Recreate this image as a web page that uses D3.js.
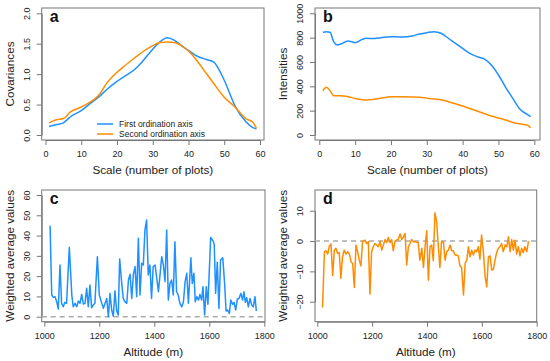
<!DOCTYPE html>
<html>
<head>
<meta charset="utf-8">
<script src="https://cdn.jsdelivr.net/npm/d3@7"></script>
<style>
  body { margin: 0; background: #fff; }
  svg { display: block; font-family: "Liberation Sans", Arial, sans-serif; }
</style>
</head>
<body>
<div id="wrapper"></div>
<script>
// --- panel a: covariances vs scale
const scaleA = [1, 3, 5, 7, 10, 13, 15, 17, 20, 22, 25, 27, 30, 32, 34, 36, 38, 40, 42, 45, 47, 50, 53, 56, 58, 59];
const covFirst = [0.14, 0.17, 0.2, 0.3, 0.4, 0.54, 0.63, 0.74, 0.88, 0.96, 1.08, 1.2, 1.41, 1.53, 1.6, 1.56, 1.47, 1.39, 1.31, 1.24, 1.2, 0.9, 0.48, 0.22, 0.12, 0.1];
const covSecond = [0.2, 0.25, 0.27, 0.38, 0.46, 0.56, 0.66, 0.84, 1.03, 1.13, 1.27, 1.36, 1.47, 1.52, 1.53, 1.52, 1.47, 1.38, 1.25, 1.01, 0.85, 0.62, 0.46, 0.27, 0.21, 0.11];
const legendLabels = ["First ordination axis", "Second ordination axis"];

// --- panel b: intensities vs scale
const scaleB = [1, 2, 3, 4, 5, 6, 8, 10, 12, 13, 15, 17, 20, 23, 26, 28, 30, 32, 34, 36, 38, 40, 42, 44, 46, 48, 50, 52, 54, 56, 58, 59];
const intFirst = [844, 849, 844, 767, 740, 748, 773, 759, 786, 795, 792, 800, 808, 805, 814, 830, 841, 849, 836, 795, 753, 712, 671, 644, 625, 575, 493, 392, 301, 211, 170, 151];
const intSecond = [364, 392, 364, 323, 323, 323, 315, 300, 290, 288, 292, 302, 315, 315, 313, 310, 303, 296, 290, 274, 257, 238, 218, 197, 177, 156, 140, 123, 103, 92, 82, 60];

// --- panel c: weighted average values (first axis) vs altitude
const altC = [1021, 1027, 1033, 1039, 1045, 1051, 1057, 1063, 1069, 1075,
  1081, 1091, 1100, 1105, 1112, 1118, 1124, 1130, 1136, 1142,
  1148, 1154, 1160, 1166, 1172, 1178, 1184, 1193, 1200, 1209,
  1215, 1221, 1227, 1233, 1239, 1245, 1251, 1257, 1263, 1269,
  1274, 1281, 1287, 1293, 1300, 1306, 1312, 1318, 1324, 1330,
  1336, 1342, 1348, 1354, 1360, 1366, 1372, 1378, 1384, 1390,
  1396, 1403, 1409, 1415, 1427, 1433, 1439, 1445, 1451, 1457,
  1463, 1469, 1475, 1481, 1487, 1493, 1500, 1506, 1512, 1518,
  1524, 1533, 1538, 1544, 1549, 1555, 1561, 1566, 1572, 1577,
  1583, 1589, 1595, 1605, 1615, 1618, 1623, 1629, 1635, 1641,
  1649, 1656, 1661, 1667, 1673, 1678, 1685, 1690, 1696, 1702,
  1708, 1715, 1721, 1726, 1731, 1736, 1742, 1748, 1754, 1760,
  1766, 1771];
const wavC = [44.9, 10.7, 9.5, 9.9, 7.4, 3.8, 25.5, 6.6, 4.9, 7.1,
  6.6, 34.2, 10.7, 4.9, 6.6, 4.9, 7.7, 6.6, 11.0, 6.2,
  6.6, 14.0, 4.9, 15.6, 4.4, 5.8, 6.6, 29.6, 10.7, 6.6,
  4.1, 6.6, 9.0, 0.0, 11.5, 3.3, 0.2, 12.8, 3.0, 0.8,
  28.5, 17.3, 9.0, 7.4, 6.6, 18.1, 20.9, 9.0, 20.9, 24.7,
  9.9, 38.7, 10.7, 26.3, 25.5, 42.8, 47.7, 20.6, 25.5, 9.0,
  24.7, 25.5, 18.9, 12.3, 29.6, 25.5, 17.3, 42.8, 8.2, 16.4,
  18.1, 10.7, 37.0, 12.3, 10.7, 6.6, 4.9, 7.4, 17.3, 21.4,
  6.6, 29.1, 16.4, 21.4, 7.4, 9.9, 8.2, 11.0, 8.2, 14.8,
  0.8, 14.8, 6.1, 39.1, 37.0, 35.4, 11.5, 26.8, 4.1, 28.0,
  29.1, 15.6, 2.8, 3.3, 1.6, 8.2, 6.1, 7.1, 3.3, 8.7,
  9.0, 11.5, 8.2, 12.3, 7.1, 9.4, 4.9, 9.0, 5.8, 4.9,
  9.9, 2.8];

// --- panel d: weighted average values (second axis) vs altitude
const altD = [1019, 1026, 1032, 1038, 1044, 1050, 1056, 1062, 1068, 1074,
  1080, 1086, 1092, 1098, 1105, 1111, 1117, 1123, 1129, 1135,
  1141, 1147, 1153, 1159, 1165, 1174, 1180, 1186, 1192, 1198,
  1204, 1210, 1216, 1222, 1229, 1235, 1241, 1247, 1253, 1259,
  1265, 1271, 1277, 1283, 1289, 1295, 1302, 1308, 1314, 1320,
  1326, 1332, 1338, 1344, 1350, 1356, 1362, 1368, 1374, 1381,
  1387, 1393, 1399, 1405, 1411, 1417, 1423, 1429, 1435, 1441,
  1447, 1453, 1460, 1466, 1472, 1478, 1484, 1490, 1496, 1502,
  1508, 1514, 1520, 1526, 1533, 1539, 1545, 1551, 1557, 1563,
  1569, 1575, 1581, 1587, 1593, 1599, 1605, 1612, 1618, 1624,
  1630, 1636, 1642, 1648, 1654, 1660, 1666, 1672, 1678, 1685,
  1691, 1697, 1703, 1709, 1715, 1721, 1727, 1733, 1739, 1745,
  1751, 1757, 1764, 1770];
const wavD = [-21.9, -3.5, -3.2, -4.3, -1.6, -1.0, -11.4, -3.0, -2.4, -4.1,
  -3.8, -12.3, -5.2, -3.0, -4.3, -3.5, -4.3, -6.8, -7.4, -15.3,
  -1.3, -3.5, -6.3, -8.2, -0.2, 0.3, -0.8, -0.2, -17.5, -3.5,
  -1.9, -0.8, -1.3, -1.9, -0.2, -3.0, -1.3, 0.5, -0.5, 1.2,
  -0.5, 0.5, -3.2, -0.2, 0.3, 0.5, 2.3, 0.5, 1.4, 2.5,
  -7.9, -1.9, -0.8, 0.5, -0.2, -0.2, -0.4, -0.5, -6.3, -2.4,
  -8.7, -1.9, 3.4, -12.9, -1.9, -1.3, -6.5, 9.3, 6.4, -1.3,
  -8.7, -0.2, -0.5, -6.3, -3.5, -3.0, -1.3, -3.2, -3.2, -4.6,
  -4.6, -4.9, -8.2, -8.7, -17.8, -7.4, -6.3, -1.9, -5.2, -3.0,
  -4.6, -3.0, -3.5, -1.9, -6.0, 2.0, -3.0, -11.8, -15.1, -5.2,
  -4.9, -9.6, -9.3, -6.3, -3.8, -2.4, -1.9, -0.8, -3.5, -1.3,
  -1.9, 1.4, -3.5, 0.5, -3.0, 0.3, -4.3, -1.9, -4.9, -2.4,
  -3.8, -1.9, -3.5, 0.0];

const ticksScale = [0, 10, 20, 30, 40, 50, 60];
const ticksAlt = [1000, 1200, 1400, 1600, 1800];

const blue = "#1e90ff";
const orange = "#ff8c00";
const frame = "#777";

const svg = d3.select("#wrapper").append("svg")
  .attr("width", 550)
  .attr("height", 361);

function panel(cfg) {
  const x = d3.scaleLinear().domain(cfg.xDomain).range(cfg.xRange);
  const y = d3.scaleLinear().domain(cfg.yDomain).range(cfg.yRange);
  const g = svg.append("g");

  // frame
  g.append("rect")
    .attr("x", cfg.box.l).attr("y", cfg.box.t)
    .attr("width", cfg.box.r - cfg.box.l).attr("height", cfg.box.b - cfg.box.t)
    .attr("fill", "none").attr("stroke", frame).attr("stroke-width", 1);

  // axes (R style)
  const xa = g.append("g")
    .attr("transform", "translate(0," + cfg.box.b + ")")
    .call(d3.axisBottom(x).tickValues(cfg.xTicks).tickFormat(d3.format("d")).tickSize(5).tickSizeOuter(0).tickPadding(6));
  const ya = g.append("g")
    .attr("transform", "translate(" + cfg.box.l + ",0)")
    .call(d3.axisLeft(y).tickValues(cfg.yTicks).tickFormat(cfg.yFormat).tickSize(5).tickSizeOuter(0));
  [xa, ya].forEach(a => {
    a.select(".domain").attr("stroke", frame);
    a.selectAll(".tick line").attr("stroke", frame);
    a.selectAll("text").attr("font-size", 9).attr("fill", "#222")
      .attr("font-family", "Liberation Sans, Arial, sans-serif");
  });
  ya.selectAll(".tick text")
    .attr("transform", "rotate(-90)")
    .attr("text-anchor", "middle")
    .attr("x", 0).attr("y", -12).attr("dy", null);

  // axis titles
  g.append("text")
    .attr("x", (cfg.box.l + cfg.box.r) / 2).attr("y", cfg.box.b + 34)
    .attr("text-anchor", "middle").attr("font-size", 11.7).attr("fill", "#222")
    .text(cfg.xTitle);
  g.append("text")
    .attr("transform", "translate(" + cfg.yTitleX + "," + ((cfg.box.t + cfg.box.b) / 2) + ") rotate(-90)")
    .attr("text-anchor", "middle").attr("font-size", 11.7).attr("fill", "#222")
    .text(cfg.yTitle);

  // panel letter
  g.append("text")
    .attr("x", cfg.box.l + 8).attr("y", cfg.box.t + 14)
    .attr("font-size", 16).attr("font-weight", "bold").attr("fill", "#111")
    .text(cfg.letter);

  if (cfg.zeroLine) {
    g.append("line")
      .attr("x1", cfg.box.l).attr("x2", cfg.box.r)
      .attr("y1", y(0)).attr("y2", y(0))
      .attr("stroke", "#aaa").attr("stroke-width", 1.5).attr("stroke-dasharray", "5,4");
  }

  cfg.series.forEach(s => {
    const line = d3.line()
      .x((d, i) => x(s.xs[i]))
      .y(d => y(d))
      .curve(s.curve || d3.curveLinear);
    g.append("path")
      .attr("d", line(s.ys))
      .attr("fill", "none")
      .attr("stroke", s.color)
      .attr("stroke-width", 1.5)
      .attr("stroke-linejoin", "round");
  });
  return { g, x, y };
}

const pa = panel({
  box: { l: 41.7, r: 264, t: 8, b: 140 },
  xDomain: [0, 60], xRange: [45.5, 260],
  yDomain: [0, 2], yRange: [135, 13.3],
  xTicks: ticksScale, yTicks: [0, 0.5, 1, 1.5, 2], yFormat: d3.format(".1f"),
  xTitle: "Scale (number of plots)", yTitle: "Covariances", yTitleX: 14,
  letter: "a",
  series: [
    { xs: scaleA, ys: covFirst, color: blue, curve: d3.curveMonotoneX },
    { xs: scaleA, ys: covSecond, color: orange, curve: d3.curveMonotoneX }
  ]
});

// legend in panel a
const legend = pa.g.append("g");
[blue, orange].forEach((c, i) => {
  legend.append("line")
    .attr("x1", 97).attr("x2", 113)
    .attr("y1", 124 + i * 10).attr("y2", 124 + i * 10)
    .attr("stroke", c).attr("stroke-width", 1.5);
  legend.append("text")
    .attr("x", 119).attr("y", 127 + i * 10)
    .attr("font-size", 8.5).attr("fill", "#222")
    .text(legendLabels[i]);
});

panel({
  box: { l: 315, r: 540, t: 8, b: 140 },
  xDomain: [0, 60], xRange: [319.3, 534.3],
  yDomain: [0, 1000], yRange: [135, 13.3],
  xTicks: ticksScale, yTicks: [0, 200, 400, 600, 800, 1000], yFormat: d3.format("d"),
  xTitle: "Scale (number of plots)", yTitle: "Intensities", yTitleX: 287,
  letter: "b",
  series: [
    { xs: scaleB, ys: intFirst, color: blue, curve: d3.curveMonotoneX },
    { xs: scaleB, ys: intSecond, color: orange, curve: d3.curveMonotoneX }
  ]
});

panel({
  box: { l: 41.7, r: 265, t: 190, b: 321.7 },
  xDomain: [1000, 1800], xRange: [44.3, 264.3],
  yDomain: [0, 60], yRange: [316.7, 195],
  xTicks: ticksAlt, yTicks: [0, 10, 20, 30, 40, 50, 60], yFormat: d3.format("d"),
  xTitle: "Altitude (m)", yTitle: "Weighted average values", yTitleX: 14,
  letter: "c", zeroLine: true,
  series: [{ xs: altC, ys: wavC, color: blue }]
});

panel({
  box: { l: 315, r: 536.7, t: 190, b: 321.7 },
  xDomain: [1000, 1800], xRange: [317.3, 536.7],
  yDomain: [-20, 10], yRange: [301.7, 210.7],
  xTicks: ticksAlt, yTicks: [-20, -10, 0, 10], yFormat: d3.format("d"),
  xTitle: "Altitude (m)", yTitle: "Weighted average values", yTitleX: 287,
  letter: "d", zeroLine: true,
  series: [{ xs: altD, ys: wavD, color: orange }]
});
</script>
</body>
</html>
